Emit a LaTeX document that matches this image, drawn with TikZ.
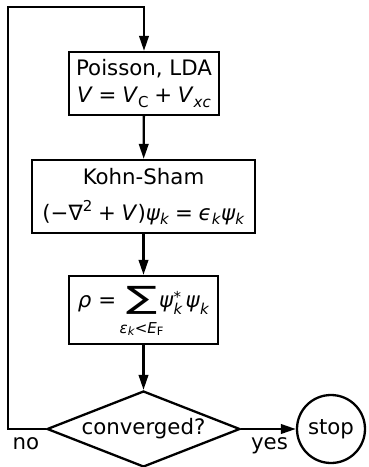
\documentclass[tikz,border=0pt]{standalone}
\usepackage{fontspec}
\usepackage{graphicx}
\setmainfont{DejaVu Sans}
\usetikzlibrary{arrows.meta,shapes.geometric}
\newcommand\vi[1]{\textit{#1}}
\newcommand\lo[1]{\raisebox{-0.22em}{\fontsize{15}{15}\selectfont #1}}
\newcommand\llo[1]{\raisebox{-7pt}{\fontsize{15}{15}\selectfont #1}}
\newcommand\hi[1]{\raisebox{0.42em}{\fontsize{15}{15}\selectfont #1}}
\newcommand\op[1]{\hspace{0.27em}#1\hspace{0.27em}}
\newsavebox\sumbox
\newcommand\bigsum{\sbox\sumbox{∑}%
  \raisebox{-7pt}{\resizebox*{31pt}{28pt}{\raisebox{\dp\sumbox}{\usebox\sumbox}}}%
  \hspace{-31pt}\raisebox{-26pt}[0pt][0pt]{\makebox[31pt]{\fontsize{15}{15}\selectfont
    \vi{ε}\raisebox{-2pt}{\fontsize{11.5}{11.5}\selectfont\vi{k}}<\vi{E}\raisebox{-2pt}{\fontsize{11.5}{11.5}\selectfont F}}}}
\begin{document}
\begin{tikzpicture}[x=1pt,y=-1pt,
  every node/.style={font=\fontsize{21.3}{27}\selectfont},
  box/.style={draw,line width=2.3pt,rectangle,inner sep=0pt,align=center},
  conn/.style={line width=2.3pt,-{Triangle[length=15pt,width=9.5pt]}},
  lbl/.style={anchor=base,inner sep=0pt}]
\useasboundingbox (0,0) rectangle (368,467);
\node[box,minimum width=150pt,minimum height=63pt] (b1) at (144,83.5)
  {Poisson, LDA\\ \vi{V}\op{=}\vi{V}\lo{C}\op{+}\vi{V}\lo{\vi{xc}}};
\node[box,minimum width=223pt,minimum height=73pt] (b2) at (143.5,196.5)
  {Kohn-Sham\\[9pt] (−∇\hi{2}\op{+}\vi{V})\vi{ψ}\lo{\vi{k}}\op{=}\vi{ϵ}\lo{\vi{k}}\vi{ψ}\lo{\vi{k}}};
\node[box,minimum width=149pt,minimum height=68pt] (b3) at (143.5,310)
  {\rule[-27pt]{0pt}{48pt}\vi{ρ}\hspace{7pt}=\hspace{10pt}\bigsum\hspace{2pt}\vi{ψ}\rlap{\raisebox{4.4pt}{\fontsize{15}{15}\selectfont *}}\llo{\vi{k}}\hspace{3pt}\vi{ψ}\llo{\vi{k}}};
\node[draw,line width=2.3pt,diamond,inner sep=0pt,shape aspect=2.54,minimum width=193pt,minimum height=76pt] (d) at (143.5,429) {converged?};
\node[draw,line width=2.3pt,circle,inner sep=0pt,minimum size=68pt] (s) at (331,429) {stop};
\coordinate (tl) at (8,7);
\draw[conn] (d.west) -| (tl) -| (b1.north);
\draw[conn] (b1) -- (b2);
\draw[conn] (b2) -- (b3);
\draw[conn] (b3) -- (d);
\draw[conn] (d) -- (s);
\node[lbl] (no) at (26,449) {no};
\node[lbl] (yes) at (269.5,449) {yes};
\end{tikzpicture}
\end{document}
